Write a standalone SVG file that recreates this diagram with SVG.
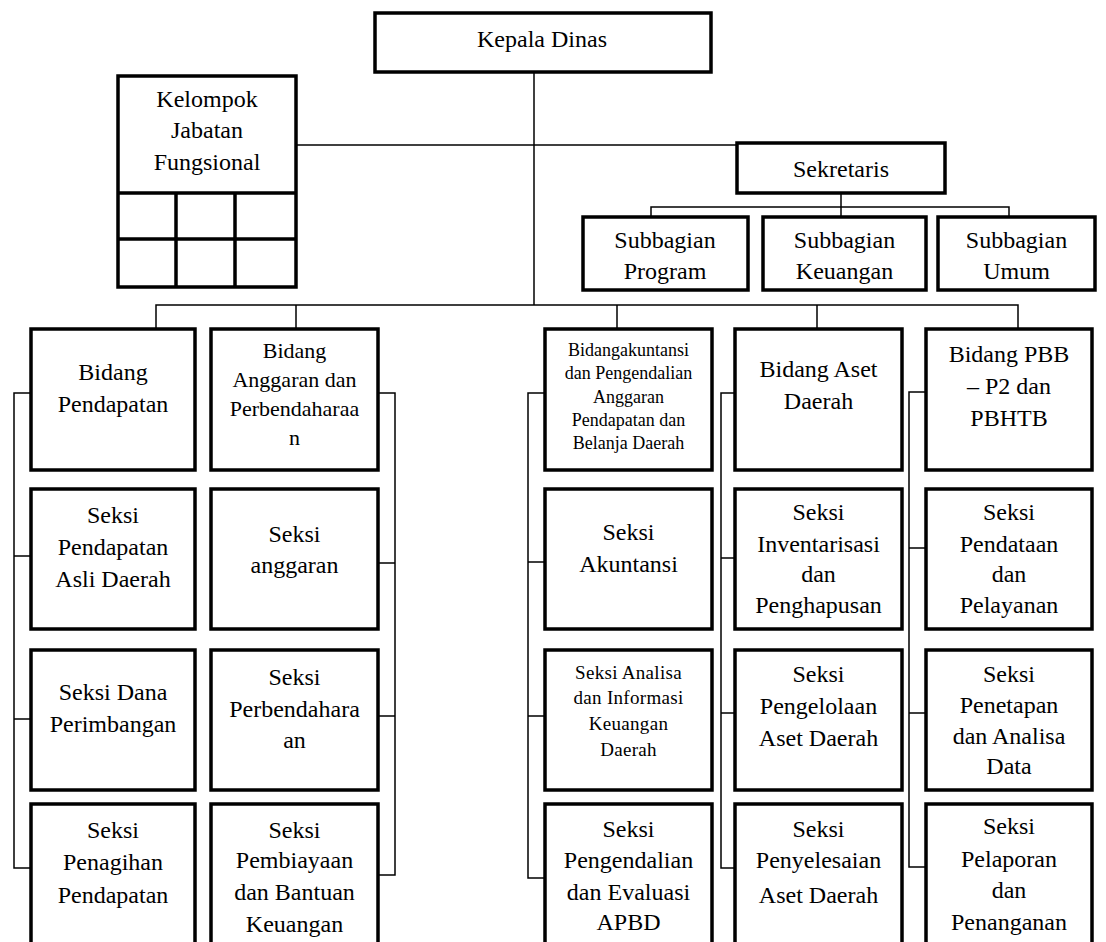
<svg xmlns="http://www.w3.org/2000/svg" width="1106" height="942" viewBox="0 0 1106 942">
<style>
.box{fill:#fff;stroke:#000;stroke-width:3.5}
.grid{stroke:#000;stroke-width:3.5;fill:none}
.ln{stroke:#000;stroke-width:1.5;fill:none}
text{font-family:"Liberation Serif","Times New Roman",serif;font-size:24px;text-anchor:middle;fill:#000}
.tight{font-size:22px}
.sm{font-size:18px}
.sm2{font-size:19px;letter-spacing:0.3px}
</style>
<rect width="1106" height="942" fill="#fff"/>
<g id="connectors">
<path class="ln" d="M534 72V305"/>
<path class="ln" d="M296 145H737"/>
<path class="ln" d="M841 193V217M651 217V207H1009V217"/>
<path class="ln" d="M156 330V305H1018V330M296 305V329M617 305V329M817 305V329"/>
<path class="ln" d="M31 393H14V868H31M14 556H31M14 719H31"/>
<path class="ln" d="M378 393H395V875H378M395 563H378M395 716H378"/>
<path class="ln" d="M545 393H528V878H545M528 562H545M528 716H545"/>
<path class="ln" d="M735 393H721V868H735M721 558H735M721 713H735"/>
<path class="ln" d="M926 392H909V867H926M909 548H926M909 713H926"/>
</g>
<g id="kepala-dinas">
<rect class="box" x="375" y="13" width="336" height="59"/>
<text x="542" y="47">Kepala Dinas</text>
</g>
<g id="kelompok-jabatan-fungsional">
<rect class="box" x="118" y="76" width="178" height="211"/>
<path class="grid" d="M118 193H296M118 239H296M176 193V287M235 193V287"/>
<text x="207" y="107">Kelompok</text>
<text x="207" y="138">Jabatan</text>
<text x="207" y="170">Fungsional</text>
</g>
<g id="sekretaris">
<rect class="box" x="737" y="143" width="208" height="50"/>
<text x="841" y="177">Sekretaris</text>
</g>
<g id="subbagian-program">
<rect class="box" x="583" y="217" width="165" height="73"/>
<text x="665" y="248">Subbagian</text>
<text x="665" y="279">Program</text>
</g>
<g id="subbagian-keuangan">
<rect class="box" x="763" y="217" width="163" height="73"/>
<text x="844.5" y="248">Subbagian</text>
<text x="844.5" y="279">Keuangan</text>
</g>
<g id="subbagian-umum">
<rect class="box" x="938" y="217" width="157" height="73"/>
<text x="1016.5" y="248">Subbagian</text>
<text x="1016.5" y="279">Umum</text>
</g>
<g id="bidang-pendapatan">
<rect class="box" x="31" y="329" width="164" height="141"/>
<text x="113" y="380">Bidang</text>
<text x="113" y="412">Pendapatan</text>
</g>
<g id="bidang-anggaran">
<rect class="box" x="211" y="329" width="167" height="141"/>
<text class="tight" x="294.5" y="358">Bidang</text>
<text class="tight" x="294.5" y="387">Anggaran dan</text>
<text class="tight" x="294.5" y="416">Perbendaharaa</text>
<text class="tight" x="294.5" y="445">n</text>
</g>
<g id="bidang-akuntansi">
<rect class="box" x="545" y="329" width="167" height="141"/>
<text class="sm" x="628.5" y="356">Bidangakuntansi</text>
<text class="sm" x="628.5" y="379">dan Pengendalian</text>
<text class="sm" x="628.5" y="403">Anggaran</text>
<text class="sm" x="628.5" y="426">Pendapatan dan</text>
<text class="sm" x="628.5" y="449">Belanja Daerah</text>
</g>
<g id="bidang-aset-daerah">
<rect class="box" x="735" y="329" width="167" height="141"/>
<text x="818.5" y="377">Bidang Aset</text>
<text x="818.5" y="409">Daerah</text>
</g>
<g id="bidang-pbb">
<rect class="box" x="926" y="329" width="166" height="141"/>
<text x="1009" y="362">Bidang PBB</text>
<text x="1009" y="394">– P2 dan</text>
<text x="1009" y="426">PBHTB</text>
</g>
<g id="seksi-pendapatan-asli-daerah">
<rect class="box" x="31" y="489" width="164" height="140"/>
<text x="113" y="523">Seksi</text>
<text x="113" y="555">Pendapatan</text>
<text x="113" y="587">Asli Daerah</text>
</g>
<g id="seksi-anggaran">
<rect class="box" x="211" y="489" width="167" height="140"/>
<text x="294.5" y="542">Seksi</text>
<text x="294.5" y="573">anggaran</text>
</g>
<g id="seksi-akuntansi">
<rect class="box" x="545" y="489" width="167" height="140"/>
<text x="628.5" y="540">Seksi</text>
<text x="628.5" y="572">Akuntansi</text>
</g>
<g id="seksi-inventarisasi">
<rect class="box" x="735" y="489" width="167" height="140"/>
<text x="818.5" y="520">Seksi</text>
<text x="818.5" y="552">Inventarisasi</text>
<text x="818.5" y="582">dan</text>
<text x="818.5" y="613">Penghapusan</text>
</g>
<g id="seksi-pendataan">
<rect class="box" x="926" y="489" width="166" height="140"/>
<text x="1009" y="520">Seksi</text>
<text x="1009" y="552">Pendataan</text>
<text x="1009" y="582">dan</text>
<text x="1009" y="613">Pelayanan</text>
</g>
<g id="seksi-dana-perimbangan">
<rect class="box" x="31" y="650" width="164" height="140"/>
<text x="113" y="700">Seksi Dana</text>
<text x="113" y="732">Perimbangan</text>
</g>
<g id="seksi-perbendaharaan">
<rect class="box" x="211" y="650" width="167" height="140"/>
<text x="294.5" y="685">Seksi</text>
<text x="294.5" y="717">Perbendahara</text>
<text x="294.5" y="748">an</text>
</g>
<g id="seksi-analisa">
<rect class="box" x="545" y="650" width="167" height="140"/>
<text class="sm2" x="628.5" y="679">Seksi Analisa</text>
<text class="sm2" x="628.5" y="704">dan Informasi</text>
<text class="sm2" x="628.5" y="730">Keuangan</text>
<text class="sm2" x="628.5" y="756">Daerah</text>
</g>
<g id="seksi-pengelolaan">
<rect class="box" x="735" y="650" width="167" height="140"/>
<text x="818.5" y="682">Seksi</text>
<text x="818.5" y="714">Pengelolaan</text>
<text x="818.5" y="746">Aset Daerah</text>
</g>
<g id="seksi-penetapan">
<rect class="box" x="926" y="650" width="166" height="140"/>
<text x="1009" y="682">Seksi</text>
<text x="1009" y="713">Penetapan</text>
<text x="1009" y="744">dan Analisa</text>
<text x="1009" y="774">Data</text>
</g>
<g id="seksi-penagihan">
<rect class="box" x="31" y="804" width="164" height="160"/>
<text x="113" y="838">Seksi</text>
<text x="113" y="870">Penagihan</text>
<text x="113" y="903">Pendapatan</text>
</g>
<g id="seksi-pembiayaan">
<rect class="box" x="211" y="804" width="167" height="160"/>
<text x="294.5" y="838">Seksi</text>
<text x="294.5" y="868">Pembiayaan</text>
<text x="294.5" y="900">dan Bantuan</text>
<text x="294.5" y="932">Keuangan</text>
</g>
<g id="seksi-pengendalian">
<rect class="box" x="545" y="804" width="167" height="160"/>
<text x="628.5" y="837">Seksi</text>
<text x="628.5" y="868">Pengendalian</text>
<text x="628.5" y="900">dan Evaluasi</text>
<text x="628.5" y="930">APBD</text>
</g>
<g id="seksi-penyelesaian">
<rect class="box" x="735" y="804" width="167" height="160"/>
<text x="818.5" y="837">Seksi</text>
<text x="818.5" y="868">Penyelesaian</text>
<text x="818.5" y="903">Aset Daerah</text>
</g>
<g id="seksi-pelaporan">
<rect class="box" x="926" y="804" width="166" height="160"/>
<text x="1009" y="834">Seksi</text>
<text x="1009" y="867">Pelaporan</text>
<text x="1009" y="898">dan</text>
<text x="1009" y="930">Penanganan</text>
</g>
</svg>
